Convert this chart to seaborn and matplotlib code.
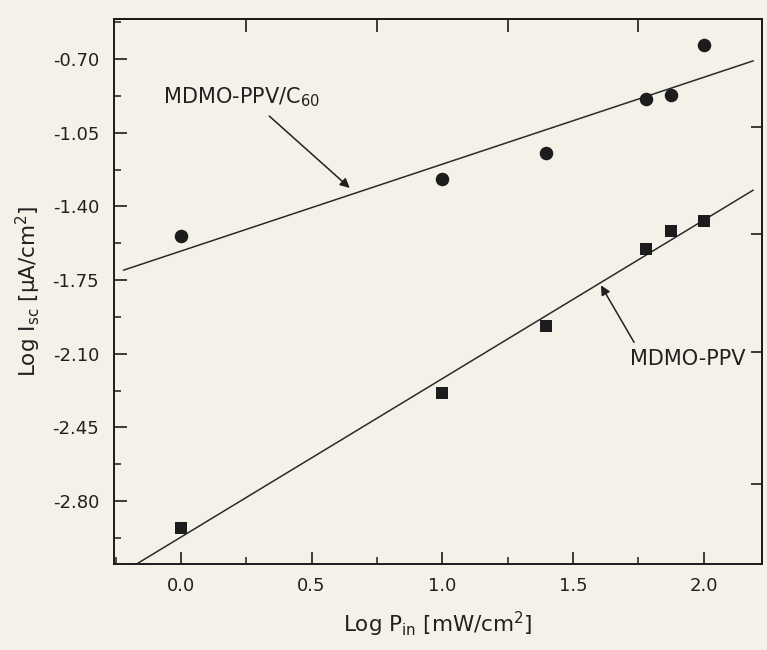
import numpy as np
import pandas as pd
import matplotlib
matplotlib.use("Agg")
import matplotlib.pyplot as plt
import seaborn as sns
from matplotlib.ticker import FixedLocator, MultipleLocator, FormatStrFormatter, NullFormatter

# log10 of incident light intensity P_in (mW/cm^2)
log_pin = [0.0, 1.0, 1.398, 1.778, 1.875, 2.0]
# log10 of short-circuit current density I_sc (uA/cm^2)
isc_blend = [-1.54, -1.27, -1.145, -0.89, -0.87, -0.632]       # MDMO-PPV/C60
isc_pristine = [-2.93, -2.285, -1.97, -1.60, -1.515, -1.467]   # MDMO-PPV

x_ticks = [0.0, 0.5, 1.0, 1.5, 2.0]
y_ticks = [-0.70, -1.05, -1.40, -1.75, -2.10, -2.45, -2.80]
top_ticks = [0.25, 0.75, 1.25, 1.75]
right_ticks = [-1.02, -1.53, -2.09, -2.72]

sns.set_theme(style="ticks")
plt.rcParams["font.family"] = ["DejaVu Sans"]
plt.rcParams["mathtext.default"] = "regular"

paper = "#f4f2e8"
ink = "#1c1c1c"
txt = "#202020"

fig = plt.figure(figsize=(7.67, 6.5), dpi=100, facecolor=paper)
ax = fig.add_axes([0.149, 0.1323, 0.844, 0.838])
ax.set_facecolor(paper)

# linear fits drawn across the plot
fit_x = np.array([-0.22, 2.19])
for vals in (isc_blend, isc_pristine):
    k, b = np.polyfit(log_pin, vals, 1)
    sns.lineplot(x=fit_x, y=k * fit_x + b, ax=ax, color="#2a2a2a", lw=1.1)

sns.scatterplot(x=log_pin, y=isc_blend, ax=ax, marker="o", s=95,
                color=ink, edgecolor=ink, linewidth=0, zorder=3)
sns.scatterplot(x=log_pin, y=isc_pristine, ax=ax, marker="s", s=70,
                color=ink, edgecolor=ink, linewidth=0, zorder=3)

ax.set_xlim(-0.255, 2.222)
ax.set_ylim(-3.10, -0.51)

ax.xaxis.set_major_locator(FixedLocator(x_ticks))
ax.xaxis.set_minor_locator(MultipleLocator(0.25))
ax.yaxis.set_major_locator(FixedLocator(y_ticks))
ax.yaxis.set_minor_locator(MultipleLocator(0.175))
ax.xaxis.set_major_formatter(FormatStrFormatter("%.1f"))
ax.yaxis.set_major_formatter(FormatStrFormatter("%.2f"))

ax.tick_params(which="major", direction="in", length=9, width=1.2,
               color=ink, labelsize=13, labelcolor=txt)
ax.tick_params(which="minor", direction="in", length=5, width=1.1, color=ink)
ax.tick_params(axis="y", pad=11)
ax.tick_params(axis="x", pad=9)

top = ax.secondary_xaxis("top")
top.set_xticks(top_ticks)
top.xaxis.set_major_formatter(NullFormatter())
top.tick_params(direction="in", length=9, width=1.2, color=ink)
right = ax.secondary_yaxis("right")
right.set_yticks(right_ticks)
right.yaxis.set_major_formatter(NullFormatter())
right.tick_params(direction="in", length=8, width=1.2, color=ink)
for s in list(ax.spines.values()) + [top.spines["top"], right.spines["right"]]:
    s.set_linewidth(1.4)
    s.set_color(ink)

ax.set_xlabel("Log P$_{in}$ [mW/cm$^2$]", fontsize=15.5, color=txt, labelpad=11)
ax.set_ylabel("Log I$_{sc}$ [\u03bcA/cm$^2$]", fontsize=15.5, color=txt, labelpad=7)

arrow = dict(arrowstyle="-|>", color=txt, lw=1.1, mutation_scale=14,
             shrinkA=0, shrinkB=0)
ax.text(-0.07, -0.88, "MDMO-PPV/C$_{60}$", fontsize=15, va="center", color=txt)
ax.annotate("", xy=(0.646, -1.312), xytext=(0.338, -0.970), arrowprops=arrow)
ax.text(1.718, -2.126, "MDMO-PPV", fontsize=15, va="center", color=txt)
ax.annotate("", xy=(1.607, -1.775), xytext=(1.734, -2.046), arrowprops=arrow)

fig.savefig("out.png", dpi=100, facecolor=paper)
